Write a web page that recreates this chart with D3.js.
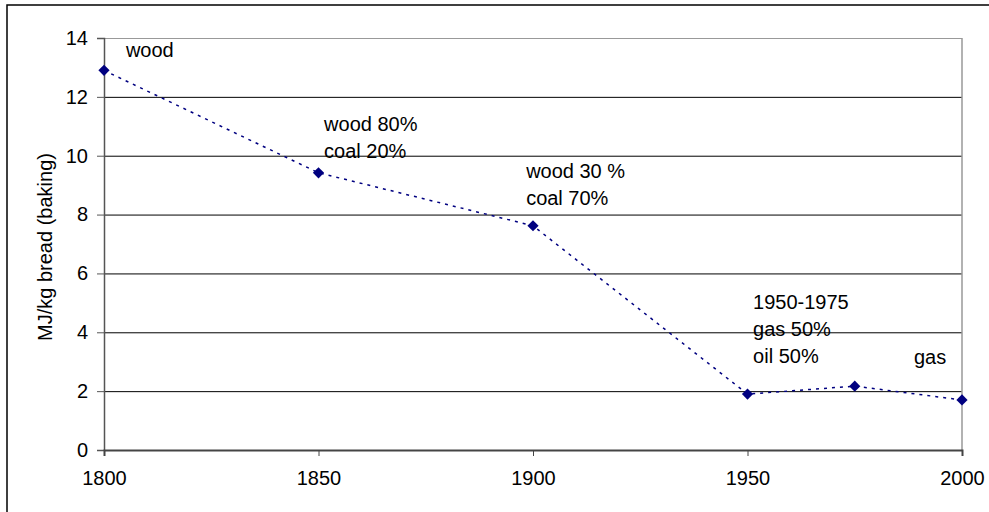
<!DOCTYPE html>
<meta charset="utf-8">
<style>
body { margin: 0; background: #fff; }
svg { font-family: Arial, "Liberation Sans", sans-serif; }
.tick text { font-size: 20px; fill: #000; }
.note { font-size: 20px; fill: #000; }
</style>
<body>
<div id="chart"></div>
<script src="https://d3js.org/d3.v7.min.js"></script>
<script>
var years = [1800, 1850, 1900, 1950, 1975, 2000];
var energy = [12.9, 9.42, 7.62, 1.9, 2.17, 1.7];
var yTicks = [0, 2, 4, 6, 8, 10, 12, 14];
var xTicks = [1800, 1850, 1900, 1950, 2000];
// annotation anchors in data units (year, value of first baseline)
var notes = [
  {year: 1805.1, value: 13.35, lines: ["wood"]},
  {year: 1851.3, value: 10.84, lines: ["wood 80%", "coal 20%"]},
  {year: 1898.4, value: 9.24, lines: ["wood 30 %", "coal 70%"]},
  {year: 1951.3, value: 4.8, lines: ["1950-1975", "gas 50%", "oil 50%"]},
  {year: 1988.8, value: 2.92, lines: ["gas"]}
];

var width = 989, height = 512;
var x = d3.scaleLinear().domain([1800, 2000]).range([104, 962]);
var y = d3.scaleLinear().domain([0, 14]).range([450, 38]);

var svg = d3.select("#chart").append("svg")
  .attr("width", width).attr("height", height);

svg.append("rect")
  .attr("x", 7).attr("y", 5).attr("width", 990).attr("height", 520)
  .attr("fill", "#fff").attr("stroke", "#000").attr("stroke-width", 1.5);

// gridlines
svg.append("g").selectAll("line")
  .data(yTicks.filter(function(d) { return d > 0; }))
  .enter().append("line")
  .attr("x1", x(1800)).attr("x2", x(2000))
  .attr("y1", function(d) { return y(d) + 0.5; })
  .attr("y2", function(d) { return y(d) + 0.5; })
  .attr("stroke", function(d) { return d === 14 ? "#999" : "#000"; })
  .attr("stroke-width", 1);

// right border of plot area
svg.append("line")
  .attr("x1", x(2000)).attr("x2", x(2000))
  .attr("y1", y(14)).attr("y2", y(0))
  .attr("stroke", "#999").attr("stroke-width", 1.5);

var yAxis = d3.axisLeft(y).tickValues(yTicks).tickSize(7).tickPadding(9);
var gy = svg.append("g").attr("transform", "translate(" + x(1800) + ",0)").call(yAxis);
gy.select(".domain").attr("stroke", "#555").attr("stroke-width", 1.5);
gy.selectAll(".tick line").attr("stroke", "#555");

var xAxis = d3.axisBottom(x).tickValues(xTicks).tickFormat(d3.format("d")).tickSize(6).tickPadding(15);
var gx = svg.append("g").attr("transform", "translate(0," + y(0) + ")").call(xAxis);
gx.select(".domain").attr("stroke", "#444").attr("stroke-width", 2);
gx.selectAll(".tick line").attr("stroke", "#444");

svg.append("text")
  .attr("transform", "translate(52," + 247 + ") rotate(-90)")
  .attr("text-anchor", "middle")
  .style("font-size", "20px")
  .text("MJ/kg bread (baking)");

var pts = years.map(function(d, i) { return [d, energy[i]]; });
var line = d3.line()
  .x(function(d) { return x(d[0]); })
  .y(function(d) { return y(d[1]); });

svg.append("path")
  .datum(pts)
  .attr("d", line)
  .attr("fill", "none")
  .attr("stroke", "#000080")
  .attr("stroke-width", 1.5)
  .attr("stroke-dasharray", "3,5");

svg.append("g").selectAll("path")
  .data(pts)
  .enter().append("path")
  .attr("d", d3.symbol().type(d3.symbolDiamond2).size(80))
  .attr("transform", function(d) { return "translate(" + x(d[0]) + "," + y(d[1]) + ")"; })
  .attr("fill", "#000080");

var ng = svg.append("g").selectAll("text")
  .data(notes)
  .enter().append("text")
  .attr("class", "note")
  .attr("x", function(d) { return x(d.year); })
  .attr("y", function(d) { return y(d.value); });
ng.selectAll("tspan")
  .data(function(d) { return d.lines.map(function(l) { return {l: l, x: x(d.year)}; }); })
  .enter().append("tspan")
  .attr("x", function(d) { return d.x; })
  .attr("dy", function(d, i) { return i === 0 ? 0 : 27; })
  .text(function(d) { return d.l; });
</script>
</body>
